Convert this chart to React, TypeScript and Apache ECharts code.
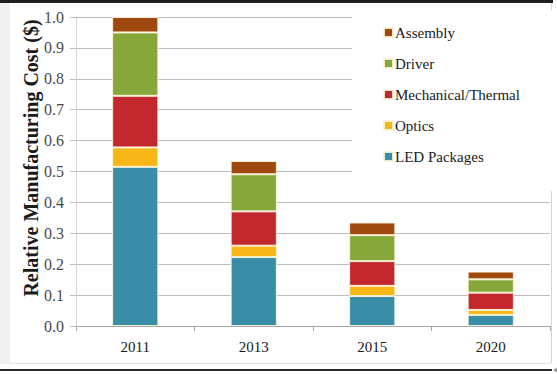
import React, { useEffect, useRef } from "react";
import * as echarts from "echarts";

const years = ["2011", "2013", "2015", "2020"];
const ledPackages = [0.515, 0.223, 0.097, 0.036];
const optics = [0.063, 0.037, 0.033, 0.016];
const mechanicalThermal = [0.167, 0.111, 0.08, 0.056];
const driver = [0.205, 0.12, 0.084, 0.043];
const assembly = [0.05, 0.043, 0.041, 0.025];
const legendOrder = ["Assembly", "Driver", "Mechanical/Thermal", "Optics", "LED Packages"];

const FONT = "'Liberation Serif', 'Times New Roman', serif";

export default function App() {
  const ref = useRef<HTMLDivElement>(null);
  useEffect(() => {
    if (!ref.current) return;
    const chart = echarts.init(ref.current, undefined, { renderer: "svg" });
    const mk = (name: string, data: number[], color: string) => ({
      name,
      type: "bar",
      stack: "cost",
      data,
      barWidth: "39%",
      itemStyle: { color, borderColor: "rgba(250,245,215,0.9)", borderWidth: 1 },
    });
    chart.setOption({
      animation: false,
      backgroundColor: "#ffffff",
      textStyle: { fontFamily: FONT },
      grid: { left: 76, right: 7, top: 17, bottom: 48 },
      graphic: [
        { type: "rect", z: -10, shape: { x: 0, y: 0, width: 10, height: 364 }, style: { fill: "#f1f1f1" } },
        { type: "rect", z: 10, shape: { x: 0, y: 0, width: 553, height: 3 }, style: { fill: "#1e1e1e" } },
        { type: "line", z: -5, shape: { x1: 551.5, y1: 3, x2: 551.5, y2: 363 }, style: { stroke: "#d6d6d6", lineWidth: 1 } },
        { type: "line", z: -5, shape: { x1: 10, y1: 363.5, x2: 551, y2: 363.5 }, style: { stroke: "#e2e2e2", lineWidth: 1 } },
        { type: "rect", z: 10, shape: { x: 0, y: 369, width: 552, height: 2 }, style: { fill: "#2a2a2a" } },
        { type: "polygon", z: 10, shape: { points: [[553, 370], [557, 367.5], [557, 372.5]] }, style: { fill: "#999" } },
        {
          type: "text",
          x: 31,
          y: 158,
          rotation: Math.PI / 2,
          style: {
            text: "Relative Manufacturing Cost ($)",
            font: "bold 20px " + FONT,
            fill: "#1a1a1a",
            align: "center",
            verticalAlign: "middle",
          },
        },
      ],
      legend: {
        orient: "vertical",
        left: 352,
        top: 10,
        data: legendOrder,
        icon: "rect",
        itemWidth: 9,
        itemHeight: 9,
        itemGap: 16,
        backgroundColor: "#ffffff",
        padding: [15, 34, 27, 31],
        textStyle: { fontFamily: FONT, fontSize: 15, color: "#1a1a1a", lineHeight: 14, padding: [0, 0, 0, -3] },
      },
      xAxis: {
        type: "category",
        data: years,
        axisLine: { lineStyle: { color: "#a6a6a6", width: 1 } },
        axisTick: { show: true, length: 5, lineStyle: { color: "#a6a6a6" } },
        axisLabel: { fontFamily: FONT, fontSize: 15, color: "#1a1a1a", margin: 13 },
      },
      yAxis: {
        type: "value",
        min: 0,
        max: 1,
        interval: 0.1,
        axisLine: { show: true, lineStyle: { color: "#d4d4d4" } },
        axisTick: { show: true, length: 6, lineStyle: { color: "#bdbdbd" } },
        splitLine: { lineStyle: { color: "#bdbdbd", width: 1 } },
        axisLabel: {
          fontFamily: FONT,
          fontSize: 16,
          color: "#4a4a4a",
          margin: 12,
          formatter: (v: number) => v.toFixed(1),
        },
      },
      series: [
        mk("LED Packages", ledPackages, "#3a8da6"),
        mk("Optics", optics, "#f8b718"),
        mk("Mechanical/Thermal", mechanicalThermal, "#c3272e"),
        mk("Driver", driver, "#86a83b"),
        mk("Assembly", assembly, "#9f4810"),
      ],
    });
    return () => chart.dispose();
  }, []);
  return <div ref={ref} style={{ position: "absolute", left: 0, top: 0, width: 557, height: 374 }} />;
}
